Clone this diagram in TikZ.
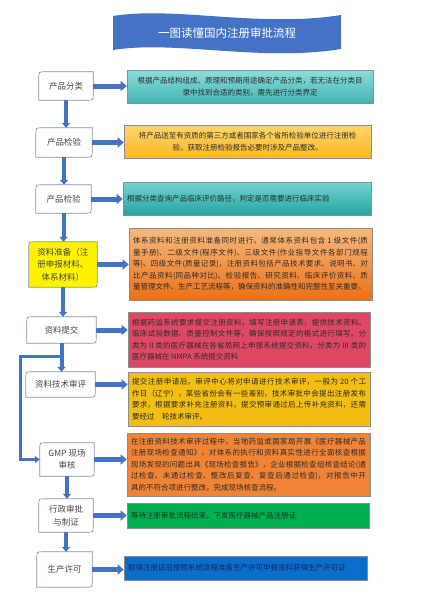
\documentclass[tikz,border=0pt]{standalone}
\usepackage{fontspec}
\newfontfamily\cjk{Noto Sans CJK SC}
\XeTeXlinebreaklocale "zh"
\XeTeXlinebreakskip=0pt plus 1pt
\setlength\parindent{0pt}
\usetikzlibrary{arrows.meta,backgrounds,calc}
\definecolor{ablue}{RGB}{68,114,196}
\definecolor{tblue}{RGB}{68,114,196}
\definecolor{tealAT}{RGB}{140,222,218}
\definecolor{tealAB}{RGB}{65,180,180}
\definecolor{goldT}{RGB}{255,214,105}
\definecolor{goldB}{RGB}{248,182,40}
\definecolor{tealBT}{RGB}{115,212,210}
\definecolor{tealBB}{RGB}{35,165,162}
\definecolor{orT}{RGB}{247,185,125}
\definecolor{orB}{RGB}{236,112,22}
\definecolor{redbox}{RGB}{222,72,100}
\definecolor{goldbox}{RGB}{242,190,20}
\definecolor{orbox}{RGB}{240,132,52}
\definecolor{greenbox}{RGB}{0,176,80}
\definecolor{bluebox}{RGB}{12,110,200}
\definecolor{lborder}{RGB}{130,145,170}
\definecolor{rborder}{RGB}{140,140,140}
\definecolor{ltext}{RGB}{70,70,70}
\definecolor{rtext}{RGB}{45,45,45}
\newcommand\lframe[2][white]{\path[lbord,fill=#1] ([yshift=-6pt]#2.north west) .. controls (#2.north west) .. ([xshift=6pt]#2.north west) -- (#2.north east) -- ([yshift=6pt]#2.south east) .. controls (#2.south east) .. ([xshift=-6pt]#2.south east) -- (#2.south west) -- cycle;}
\tikzset{
  rbox/.style={draw=rborder, line width=0.6pt, rectangle, inner xsep=4pt, inner ysep=0pt, align=justify, text=rtext, font=\cjk\fontsize{7.5}{11.5}\selectfont},
  lab/.style={inner sep=0pt, align=flush center, text=ltext, font=\cjk\fontsize{8.5}{12.5}\selectfont},
  lbord/.style={draw=lborder, line width=0.7pt},
  harrow/.style={ablue, line width=5pt, -{Triangle[width=10pt,length=6pt]}},
  varrow/.style={ablue, line width=4pt, -{Triangle[width=8pt,length=5pt]}},
  looparrow/.style={ablue, line width=3pt, -{Triangle[width=7pt,length=5pt]}},
  titletext/.style={text=white, font=\cjk\fontsize{11.5}{14}\selectfont, inner sep=0pt}
}
\begin{document}
\begin{tikzpicture}[x=1pt,y=-1pt]
\useasboundingbox (0,0) rectangle (441,600);
% title banner
\path[fill=tblue] (113,16) .. controls (175,6) and (260,28) .. (341,15) -- (341,49) .. controls (260,62) and (175,40) .. (113,50) -- cycle;
\node[titletext] (title) at (227,33) {一图读懂国内注册审批流程};
% left labels
\node[lab, minimum width=54pt, minimum height=28pt] (l1) at (66,86) {产品分类};
\node[lab, minimum width=56pt, minimum height=29pt] (l2) at (64,142.5) {产品检验};
\node[lab, minimum width=55pt, minimum height=28pt] (l3) at (63.5,199) {产品检验};
\node[lab, minimum width=68pt, minimum height=45pt] (l4) at (63,264.5) {资料准备（注\\册申报材料、\\体系材料）};
\node[lab, minimum width=69pt, minimum height=26pt] (l5) at (61.5,330) {资料提交};
\node[lab, minimum width=69pt, minimum height=25pt] (l6) at (60.5,384.5) {资料技术审评};
\node[lab, minimum width=54pt, minimum height=33pt] (l7) at (67,459.5) {GMP 现场\\审核};
\node[lab, minimum width=54pt, minimum height=33pt] (l8) at (66,515.5) {行政审批\\与制证};
\node[lab, minimum width=55pt, minimum height=35pt] (l9) at (64.5,569.5) {生产许可};
% right boxes
\node[rbox, top color=tealAT, bottom color=tealAB, minimum width=246pt, minimum height=33pt, text width=238pt, align=flush center] (r1) at (250,86.5) {根据产品结构组成、原理和预期用途确定产品分类，若无法在分类目\\录中找到合适的类别，需先进行分类界定};
\node[rbox, top color=goldT, bottom color=goldB, minimum width=247pt, minimum height=33pt, text width=239pt, align=flush center] (r2) at (247.5,141.5) {将产品送至有资质的第三方或者国家各个省所检验单位进行注册检\\验，获取注册检验报告必要时涉及产品整改。};
\node[rbox, top color=tealBT, bottom color=tealBB, minimum width=248pt, minimum height=33pt, text width=240pt, align=flush left] (r3) at (247,198.5) {根据分类查询产品临床评价路径，判定是否需要进行临床实验};
\node[rbox, top color=orT, bottom color=orB, minimum width=243pt, minimum height=72pt, text width=235pt] (r4) at (250.5,264) {体系资料和注册资料准备同时进行，通常体系资料包含 1 级文件(质\linebreak 量手册)、二级文件(程序文件)、三级文件(作业指导文件各部门规程\linebreak 等)、四级文件(质量记录)，注册资料包括产品技术要求、说明书、对\linebreak 比产品资料(同品种对比)、检验报告、研究资料、临床评价资料、质\linebreak 量管理文件、生产工艺流程等，确保资料的准确性和完整性至关重要。};
\node[rbox, fill=redbox, minimum width=242pt, minimum height=55pt, text width=234pt] (r5) at (249,339.5) {根据药监系统要求提交注册资料，填写注册申请表，提供技术资料、\linebreak 临床试验数据、质量控制文件等，确保按照规定的格式进行填写。分\linebreak 类为 II 类的医疗器械在各省局网上申报系统提交资料，分类为 III 类的\linebreak 医疗器械在 NMPA 系统提交资料};
\node[rbox, fill=goldbox, minimum width=242pt, minimum height=54pt, text width=234pt] (r6) at (249,399) {提交注册申请后，审评中心将对申请进行技术审评，一般为 20 个工\linebreak 作日（辽宁），某些省份会有一些差别，技术审批中会提出注册发布\linebreak 要求，根据要求补充注册资料，提交预审通过后上传补充资料，还需\linebreak 要经过　轮技术审评。};
\node[rbox, fill=orbox, minimum width=243pt, minimum height=63pt, text width=235pt] (r7) at (248.5,464.5) {在注册资料技术审评过程中，当地药监或国家局开展《医疗器械产品\linebreak 注册现场检查通知》，对体系的执行和资料真实性进行全面核查根据\linebreak 现场发现的问题出具《现场检查报告》，企业根据检查组核查结论(通\linebreak 过检查、未通过检查、整改后复查、复查后通过检查)，对报告中开\linebreak 具的不符合项进行整改，完成现场核查流程。};
\node[rbox, fill=greenbox, minimum width=242pt, minimum height=25pt, text width=234pt, align=flush left, text={rgb,255:red,20;green,60;blue,35}] (r8) at (248,515.5) {等待注册审批流程结束，下发医疗器械产品注册证};
\node[rbox, fill=bluebox, minimum width=243pt, minimum height=24pt, text width=235pt, align=flush left, text={rgb,255:red,20;green,40;blue,100}] (r9) at (245.5,568) {取得注册证后按照系统流程准备生产许可申报资料获得生产许可证};
% left frames
\begin{scope}[on background layer]
\fill[white] (0,0) rectangle (441,600);
\lframe{l1}\lframe{l2}\lframe{l3}\lframe[yellow]{l4}\lframe{l5}\lframe{l6}\lframe{l7}\lframe{l8}\lframe{l9}
\end{scope}
% horizontal arrows
\foreach \i in {1,...,9} {\draw[harrow] (l\i.east) -- (l\i.east -| r\i.west);}
% vertical arrows
\draw[varrow] (l1.south) -- (l1.south |- l2.north);
\draw[varrow] (l2.south) -- (l2.south |- l3.north);
\draw[varrow] (l3.south) -- (l3.south |- l4.north);
\draw[varrow] (l4.south) -- (l4.south |- l5.north);
\draw[varrow] (l5.south) -- (l5.south |- l6.north);
\draw[varrow] (l7.south) -- (l7.south |- l8.north);
\draw[varrow] (l8.south) -- (l8.south |- l9.north);
% loop
\coordinate (lp) at (61.5,356);
\coordinate (lx) at (20,356);
\draw[looparrow] (lp) -- (lx) |- (l7.west);
\end{tikzpicture}
\end{document}
